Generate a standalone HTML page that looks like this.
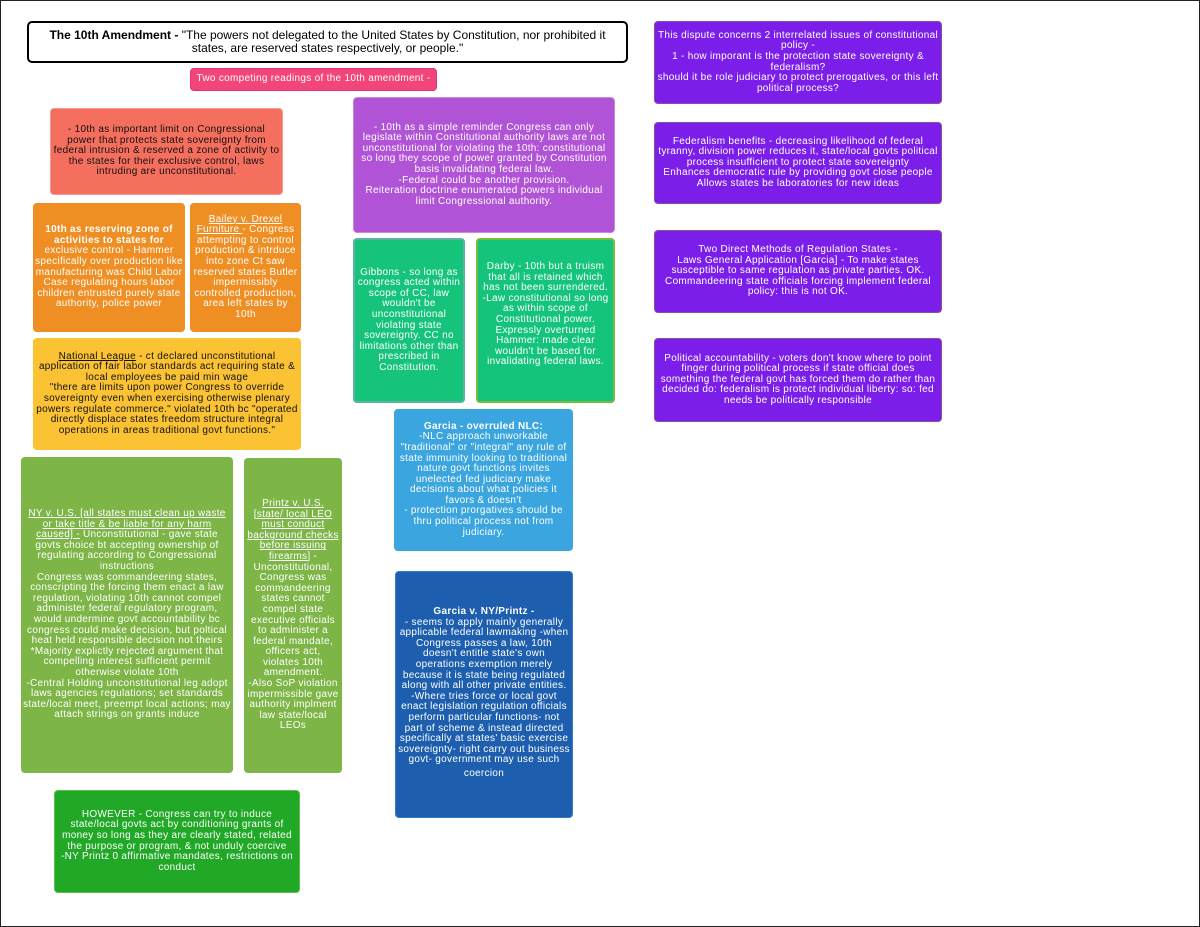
<!DOCTYPE html>
<html><head><meta charset="utf-8"><style>
body{margin:0;width:1200px;height:927px;background:#fff;position:relative;overflow:hidden;font-family:"Liberation Sans",sans-serif;}
.frame{position:absolute;left:0;top:0;width:1198px;height:925px;border:1px solid #222;}
.b{position:absolute;box-sizing:border-box;border-radius:4px;display:flex;align-items:center;justify-content:center;text-align:center;font-size:10px;line-height:10.6px;color:#fff;padding:2px;letter-spacing:0.3px;}
.b div{width:100%}
u{text-decoration:underline}
</style></head><body>
<div class="frame"></div>
<div class="b" style="left:27px;top:21px;width:601px;height:42px;border:2px solid #000;color:#000;font-size:12px;line-height:13px;border-radius:5px;letter-spacing:0;"><div><b>The 10th Amendment - </b>"The powers not delegated to the United States by Constitution, nor prohibited it<br>states, are reserved states respectively, or people."</div></div>
<div class="b" style="left:190px;top:68px;width:247px;height:23px;background:#f2457a;border:1px solid #e8307a;"><div>Two competing readings of the 10th amendment -</div></div>
<div class="b" style="left:50px;top:108px;width:233px;height:87px;background:#f46f5e;color:#111;border:1px solid #f79a8c;"><div>- 10th as important limit on Congressional power that protects state sovereignty from federal intrusion &amp; reserved a zone of activity to the states for their exclusive control, laws intruding are unconstitutional.</div></div>
<div class="b" style="left:33px;top:203px;width:152px;height:129px;background:#ef8e22;"><div><b>10th as reserving zone of activities to states for</b> exclusive control - Hammer specifically over production like manufacturing was Child Labor Case regulating hours labor children entrusted purely state authority, police power</div></div>
<div class="b" style="left:190px;top:203px;width:111px;height:129px;background:#ef8e22;"><div><u>Bailey v. Drexel Furniture </u>- Congress attempting to control production &amp; intrduce into zone Ct saw reserved states Butler impermissibly controlled production, area left states by 10th</div></div>
<div class="b" style="left:33px;top:338px;width:268px;height:112px;background:#fbc234;color:#111;"><div><u>National League</u> - ct declared unconstitutional application of fair labor standards act requiring state &amp; local employees be paid min wage<br>"there are limits upon power Congress to override sovereignty even when exercising otherwise plenary powers regulate commerce." violated 10th bc "operated directly displace states freedom structure integral operations in areas traditional govt functions."</div></div>
<div class="b" style="left:353px;top:97px;width:262px;height:136px;background:#b153d6;border:1px solid #c98ae0;"><div>- 10th as a simple reminder Congress can only legislate within Constitutional authority laws are not unconstitutional for violating the 10th: constitutional so long they scope of power granted by Constitution basis invalidating federal law.<br>-Federal could be another provision.<br>Reiteration doctrine enumerated powers individual limit Congressional authority.</div></div>
<div class="b" style="left:353px;top:238px;width:112px;height:165px;background:#15c47a;border:2px solid #5bb3a0;"><div>Gibbons - so long as congress acted within scope of CC, law wouldn't be unconstitutional violating state sovereignty. CC no limitations other than prescribed in Constitution.</div></div>
<div class="b" style="left:476px;top:238px;width:139px;height:165px;background:#14c47a;border:2px solid #7bbb3b;align-items:flex-start;padding-top:22px;"><div>Darby - 10th but a truism that all is retained which has not been surrendered.<br>-Law constitutional so long as within scope of Constitutional power. Expressly overturned Hammer: made clear wouldn't be based for invalidating federal laws.</div></div>
<div class="b" style="left:394px;top:409px;width:179px;height:142px;background:#3aa5de;"><div><b>Garcia - overruled NLC:</b><br>-NLC approach unworkable "traditional" or "integral" any rule of state immunity looking to traditional nature govt functions invites unelected fed judiciary make decisions about what policies it favors &amp; doesn't<br>- protection prorgatives should be thru political process not from judiciary.</div></div>
<div class="b" style="left:395px;top:571px;width:178px;height:247px;background:#1d5fae;border:1px solid #2f7bc8;"><div><b>Garcia v. NY/Printz -</b><br>- seems to apply mainly generally applicable federal lawmaking -when Congress passes a law, 10th doesn't entitle state's own operations exemption merely because it is state being regulated along with all other private entities.<br>-Where tries force or local govt enact legislation regulation officials perform particular functions- not part of scheme &amp; instead directed specifically at states' basic exercise sovereignty- right carry out business govt- government may use such<br><span style="line-height:16px">coercion</span></div></div>
<div class="b" style="left:21px;top:457px;width:212px;height:316px;background:#7db547;"><div><u>NY v. U.S. [all states must clean up waste or take title &amp; be liable for any harm caused] -</u> Unconstitutional - gave state govts choice bt accepting ownership of regulating according to Congressional instructions<br>Congress was commandeering states, conscripting the forcing them enact a law regulation, violating 10th cannot compel administer federal regulatory program, would undermine govt accountability bc congress could make decision, but poltical heat held responsible decision not theirs<br>*Majority explictly rejected argument that compelling interest sufficient permit otherwise violate 10th<br>-Central Holding unconstitutional leg adopt laws agencies regulations; set standards state/local meet, preempt local actions; may attach strings on grants induce</div></div>
<div class="b" style="left:244px;top:458px;width:98px;height:315px;background:#7db547;"><div><u>Printz v. U.S. [state/ local LEO must conduct background checks before issuing firearms]</u> - Unconstitutional, Congress was commandeering states cannot compel state executive officials to administer a federal mandate, officers act, violates 10th amendment.<br>-Also SoP violation impermissible gave authority implment law state/local LEOs</div></div>
<div class="b" style="left:54px;top:790px;width:246px;height:103px;background:#20a826;border:1px solid #5cbf45;"><div>HOWEVER - Congress can try to induce state/local govts act by conditioning grants of money so long as they are clearly stated, related the purpose or program, &amp; not unduly coercive<br>-NY Printz 0 affirmative mandates, restrictions on conduct</div></div>
<div class="b" style="left:654px;top:21px;width:288px;height:83px;background:#7b1ee9;border:1px solid #8d4d99;"><div>This dispute concerns 2 interrelated issues of constitutional policy -<br>1 - how imporant is the protection state sovereignty &amp; federalism?<br>should it be role judiciary to protect prerogatives, or this left political process?</div></div>
<div class="b" style="left:654px;top:122px;width:288px;height:82px;background:#7b1ee9;border:1px solid #8d4d99;"><div>Federalism benefits - decreasing likelihood of federal tyranny, division power reduces it, state/local govts political process insufficient to protect state sovereignty<br>Enhances democratic rule by providing govt close people<br>Allows states be laboratories for new ideas</div></div>
<div class="b" style="left:654px;top:230px;width:288px;height:83px;background:#7b1ee9;border:1px solid #8d4d99;"><div>Two Direct Methods of Regulation States -<br>Laws General Application [Garcia] - To make states susceptible to same regulation as private parties. OK.<br>Commandeering state officials forcing implement federal policy: this is not OK.</div></div>
<div class="b" style="left:654px;top:338px;width:288px;height:84px;background:#7b1ee9;border:1px solid #8d4d99;"><div>Political accountability - voters don't know where to point finger during political process if state official does something the federal govt has forced them do rather than decided do: federalism is protect individual liberty: so: fed needs be politically responsible</div></div>
</body></html>
